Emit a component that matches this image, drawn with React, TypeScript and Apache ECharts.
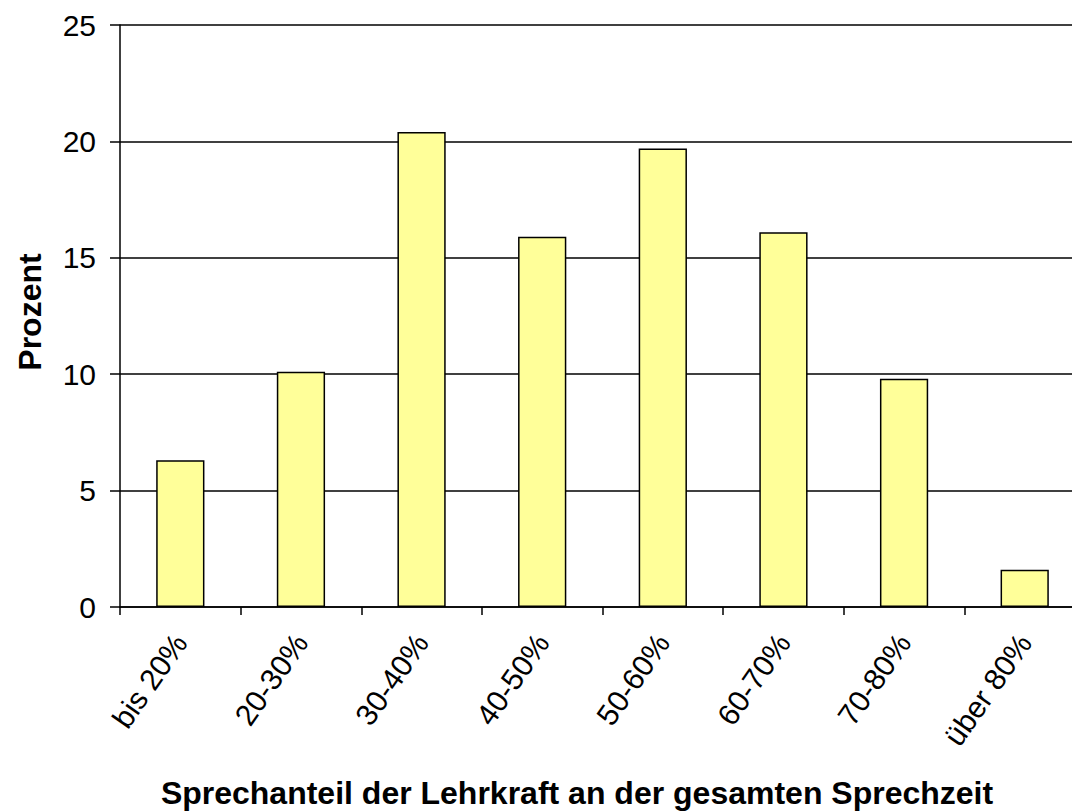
import React, { useEffect, useRef } from "react";
import * as echarts from "echarts";

const categories = ["bis 20%", "20-30%", "30-40%", "40-50%", "50-60%", "60-70%", "70-80%", "über 80%"];
const values = [6.3, 10.1, 20.4, 15.9, 19.7, 16.1, 9.8, 1.6];
const yTicks = { min: 0, max: 25, interval: 5 };
const xTitle = "Sprechanteil der Lehrkraft an der gesamten Sprechzeit";
const yTitle = "Prozent";

export default function App() {
  const ref = useRef<HTMLDivElement>(null);
  useEffect(() => {
    if (!ref.current) return;
    const chart = echarts.init(ref.current, null, { renderer: "svg" });
    const font = "Liberation Sans, Arial, sans-serif";
    chart.setOption({
      animation: false,
      backgroundColor: "#ffffff",
      textStyle: { fontFamily: font },
      grid: { left: 120, top: 25, width: 965, bottom: 204, containLabel: false },
      xAxis: {
        type: "category",
        data: categories,
        boundaryGap: true,
        axisLine: { show: true, lineStyle: { color: "#000", width: 1.5 } },
        axisTick: { show: true, length: 8, alignWithLabel: false, lineStyle: { color: "#000", width: 1.5 } },
        axisLabel: { rotate: 55, fontSize: 30, color: "#000", margin: 30, fontFamily: font, interval: 0 },
        splitLine: { show: false },
      },
      yAxis: {
        type: "value",
        min: yTicks.min,
        max: yTicks.max,
        interval: yTicks.interval,
        axisLine: { show: true, lineStyle: { color: "#000", width: 1.5 } },
        axisTick: { show: true, length: 10, lineStyle: { color: "#000", width: 1.5 } },
        axisLabel: { fontSize: 30, color: "#000", margin: 24, fontFamily: font },
        splitLine: { show: true, lineStyle: { color: "#000", width: 1.5 } },
      },
      series: [
        {
          type: "bar",
          data: values,
          barWidth: "40%",
          itemStyle: { color: "#FFFF99", borderColor: "#000", borderWidth: 1.5 },
        },
      ],
      graphic: [
        {
          type: "text",
          x: 577,
          y: 793,
          style: {
            text: xTitle,
            fontSize: 32,
            fontWeight: "bold",
            fontFamily: font,
            fill: "#000",
            align: "center",
            verticalAlign: "middle",
          },
        },
        {
          type: "text",
          x: 30,
          y: 312,
          rotation: Math.PI / 2,
          style: {
            text: yTitle,
            fontSize: 32,
            fontWeight: "bold",
            fontFamily: font,
            fill: "#000",
            align: "center",
            verticalAlign: "middle",
          },
        },
      ],
    });
    return () => chart.dispose();
  }, []);
  return (
    <div
      style={{ position: "absolute", left: 0, top: 0, width: 1072, height: 811, overflow: "hidden" }}
    >
      <div ref={ref} style={{ width: 1095, height: 811 }} />
    </div>
  );
}
